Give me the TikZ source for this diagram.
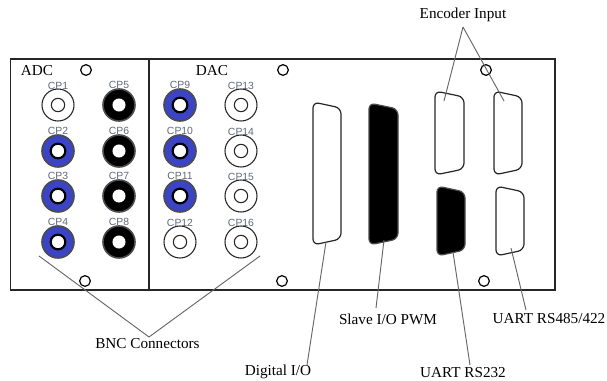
\documentclass[tikz,border=0pt]{standalone}
\usepackage{fontspec}
\usepackage{xcolor}
\setmainfont{Liberation Serif}
\setsansfont{Liberation Sans}
\usetikzlibrary{positioning}
\definecolor{jackblue}{RGB}{58,68,196}
\definecolor{cpgrey}{RGB}{95,105,125}
% d-sub outline: style, left, top, right, bottom
\newcommand{\dsub}[5]{\draw[#1] (#2,#3-2) -- (#4,#3+4) -- (#4,#5-4) -- (#2,#5+2) -- cycle;}
\begin{document}
\begin{tikzpicture}[x=0.75pt,y=-0.75pt,
w/.style={draw=black!85,circle,inner sep=0pt,minimum size=24pt,line width=0.8pt,fill=white},
wi/.style={draw=black!85,circle,inner sep=0pt,minimum size=10pt,line width=0.8pt,fill=white},
b/.style={w,fill=jackblue,line width=1.2pt,draw=black!70},
bi/.style={wi,minimum size=11pt,line width=1.6pt,draw=black},
k/.style={w,fill=black,line width=1.2pt,draw=black!70},
ki/.style={wi,draw=white,fill=white,minimum size=9pt},
hole/.style={draw,circle,inner sep=0pt,minimum size=8pt,line width=0.9pt},
lead/.style={draw=black!60,line width=0.7pt},
dw/.style={draw=black!85,line width=0.9pt,rounded corners=4.5pt,fill=white},
dk/.style={dw,fill=black,draw=black!70},
panel/.style={draw=black!85,line width=1.2pt},
cplabel/.style={font=\sffamily\fontsize{7.8}{9}\selectfont,text=cpgrey,inner sep=0pt},
capt/.style={font=\fontsize{11.4}{13}\selectfont,inner sep=0pt}]
\useasboundingbox (0,0) rectangle (607,381);
\draw[panel] (10.5,59) rectangle (555,290);
\draw[panel] (149,59) -- (149,290);
\foreach \n/\x/\y/\s in {1/58/105/w,2/58/151/b,3/58/196/b,4/58/242/b,
  5/119/105/k,6/119/151/k,7/119/196/k,8/119/242/k,
  9/180/105/b,10/180/151/b,11/180/196/b,12/180/242/w,
  13/241/105/w,14/241/151/w,15/241/196/w,16/241/242/w}{
  \node[\s] (cp\n) at (\x,\y) {};
  \node[\s i] at (cp\n) {};
  \node[cplabel,above=-0.8pt of cp\n] {CP\n};
}
\foreach \n/\x/\y in {a/86/70,b/283/70,c/486/70,d/85/281,e/282/281,f/484/281}
  \node[hole] (h\n) at (\x,\y) {};
\node[capt] (adc) at (37,71) {ADC};
\node[capt] (dac) at (212,71) {DAC};
% connectors on the back panel
\dsub{dw}{313}{104}{341}{243}
\dsub{dk}{369}{105}{398}{243}
\dsub{dw}{435}{93}{464}{173}
\dsub{dw}{494}{93}{522}{173}
\dsub{dk}{437}{188}{465}{254}
\dsub{dw}{496}{188}{524}{254}
\coordinate (digital) at (326,242);
\coordinate (slave) at (384,240);
\coordinate (enca) at (444,101);
\coordinate (encb) at (504,101);
\coordinate (rs232) at (453,252);
\coordinate (rs485) at (511,248);
\coordinate (bnca) at (39,256);
\coordinate (bncb) at (260,256);
% captions
\node[capt] (encoder) at (463,15) {Encoder Input};
\node[capt] (bnc) at (147.5,344) {BNC Connectors};
\node[capt] (lblslave) at (388,319) {Slave I/O PWM};
\node[capt] (lblrs485) at (549,319) {UART RS485/422};
\node[capt] (lbldigital) at (278,372) {Digital I/O};
\node[capt] (lblrs232) at (463,372.5) {UART RS232};
\coordinate (bnctop) at (149,337);
\coordinate (enctop) at (463,27);
\coordinate (digitalend) at (307,365);
\coordinate (slaveend) at (376,308);
\coordinate (rs232end) at (470,365);
\coordinate (rs485end) at (526,310);
\draw[lead] (enctop) -- (enca);
\draw[lead] (enctop) -- (encb);
\draw[lead] (bnctop) -- (bnca);
\draw[lead] (bnctop) -- (bncb);
\draw[lead] (digital) -- (digitalend);
\draw[lead] (slave) -- (slaveend);
\draw[lead] (rs232) -- (rs232end);
\draw[lead] (rs485) -- (rs485end);
\end{tikzpicture}
\end{document}
